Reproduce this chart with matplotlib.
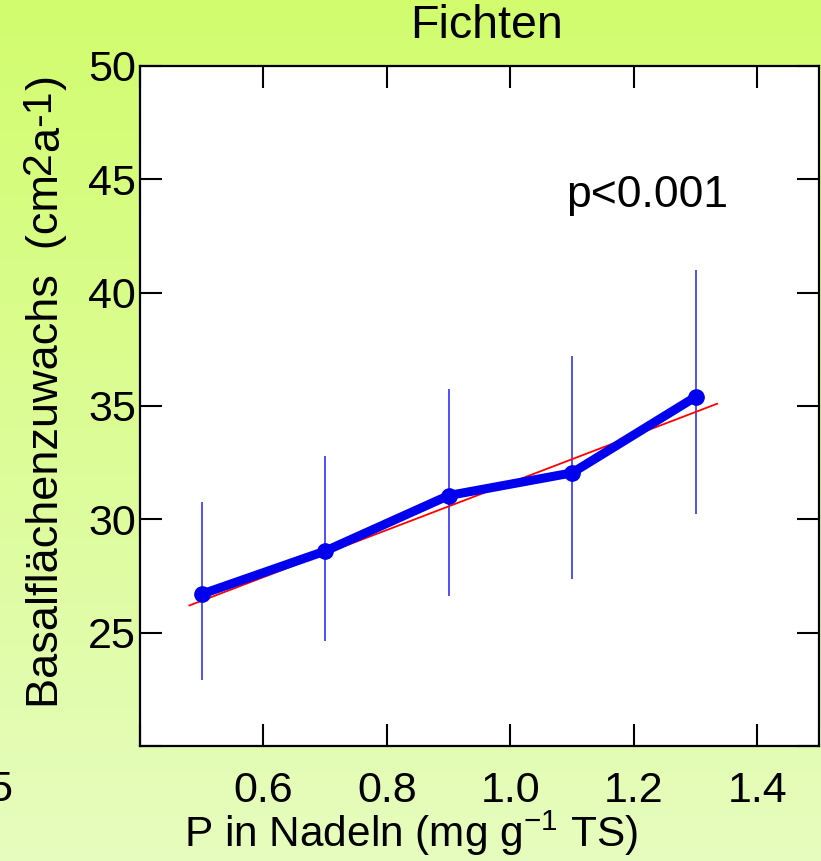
import numpy as np
import matplotlib
matplotlib.use("Agg")
import matplotlib.pyplot as plt
from matplotlib.colors import LinearSegmentedColormap

plt.rcParams['font.family'] = ['Liberation Sans', 'DejaVu Sans']
plt.rcParams['mathtext.fontset'] = 'custom'
plt.rcParams['mathtext.rm'] = 'Liberation Sans'
plt.rcParams['mathtext.it'] = 'Liberation Sans'
plt.rcParams['mathtext.default'] = 'regular'

# data
p_needles = [0.5, 0.7, 0.9, 1.1, 1.3]
growth = [26.7, 28.6, 31.05, 32.05, 35.4]
err_low = [22.9, 24.65, 26.6, 27.35, 30.25]
err_high = [30.75, 32.8, 35.75, 37.2, 41.0]
fit_x = [0.48, 1.335]
fit_y = [26.2, 35.1]
x_ticks = [0.4, 0.6, 0.8, 1.0, 1.2, 1.4]
x_ticklabels = ['', '0.6', '0.8', '1.0', '1.2', '1.4']
y_ticks = [20, 25, 30, 35, 40, 45, 50]
y_ticklabels = ['', '25', '30', '35', '40', '45', '50']
ylabel_parts = ['Basalflächenzuwachs  (cm', '2', 'a', '-1', ')']
ylabel_super = [False, True, False, True, False]

W, H = 821, 861
fig = plt.figure(figsize=(W/100, H/100), dpi=100)

# gradient background
bg = fig.add_axes([0, 0, 1, 1], zorder=-10)
cmap = LinearSegmentedColormap.from_list('bg', ['#d2fc6e', '#e6fcbe'])
grad = np.linspace(0, 1, 256).reshape(-1, 1)
bg.imshow(grad, aspect='auto', cmap=cmap, extent=[0, 1, 0, 1], origin='upper')
bg.axis('off')

ax = fig.add_axes([140/W, 1-746/H, (819-140)/W, (746-66)/H])
ax.set_facecolor('white')

lo = np.array(growth) - np.array(err_low)
hi = np.array(err_high) - np.array(growth)
ax.errorbar(p_needles, growth, yerr=[lo, hi], fmt='none', ecolor='#2020ff',
            elinewidth=1.1, capsize=0, zorder=2)
ax.plot(fit_x, fit_y, color='red', lw=1.3, zorder=3)
ax.plot(p_needles, growth, color='#0000ee', lw=6.5, marker='o', ms=11,
        solid_capstyle='round', zorder=4)

ax.set_xlim(0.4, 1.5)
ax.set_ylim(20, 50)
ax.set_xticks(x_ticks)
ax.set_xticklabels(x_ticklabels)
ax.set_yticks(y_ticks)
ax.set_yticklabels(y_ticklabels)
ax.tick_params(direction='in', length=16, width=1.5, labelsize=31,
               top=True, right=True, colors='black')
ax.tick_params(axis='x', pad=18)
ax.tick_params(axis='y', pad=3)
for s in ax.spines.values():
    s.set_linewidth(1.6)

ax.text(1.221, 44.3, 'p<0.001', fontsize=32, ha='center', va='center')

fig.text(486/W, 1-26/H, 'Fichten', fontsize=33.5, ha='center', va='center')
fig.text(411/W, 1-833/H, r'P in Nadeln (mg g$^{-1}$ TS)', fontsize=30.5,
         ha='center', va='center')

# y label built from pieces so the superscripts keep near full size
renderer = fig.canvas.get_renderer()
base_x = 58.0
cur_y = H - 708.0
for part, sup in zip(ylabel_parts, ylabel_super):
    bx = base_x - (8 if sup else 0)
    t = fig.text(bx/W, cur_y/H, part, fontsize=(29.5 if sup else 32.5),
                 rotation=90, rotation_mode='anchor', ha='left', va='baseline')
    ext = t.get_window_extent(renderer=renderer)
    cur_y += ext.height

fig.text(12/W, 1-790/H, '5', fontsize=31, ha='right', va='center')

fig.savefig('out.png', dpi=100)
